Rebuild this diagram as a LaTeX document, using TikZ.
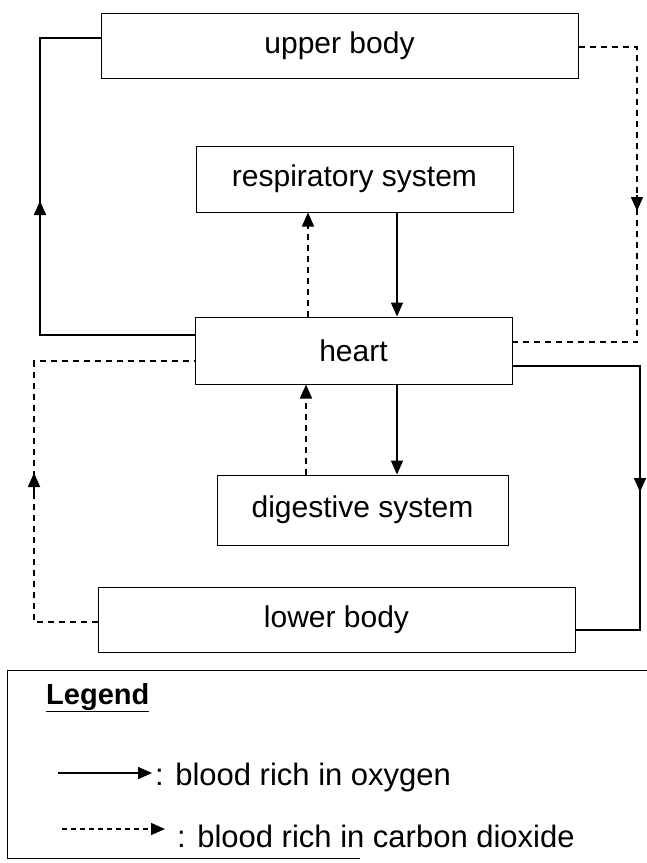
\documentclass[tikz,border=0pt]{standalone}
\usepackage{fontspec}
\setmainfont{Liberation Sans}
\usetikzlibrary{arrows.meta}
\begin{document}
\begin{tikzpicture}[x=1pt,y=-1pt,
  organ/.style={draw=black,line width=1pt,inner sep=0pt,font=\fontsize{30}{34}\selectfont},
  oxy/.style={draw=black,line width=1.8pt},
  cdx/.style={draw=black,line width=1.5pt,dash pattern=on 6pt off 5pt},
  tip/.style={-{Triangle[length=14pt,width=12pt]}},
  legtext/.style={anchor=west,inner sep=0pt,font=\fontsize{31}{35}\selectfont}]
\useasboundingbox (0,0) rectangle (647,863);

% organ boxes
\node[organ,minimum width=477pt,minimum height=65pt] (ub) at (339.5,45.5) {upper body};
\node[organ,minimum width=317pt,minimum height=66pt] (rs) at (354.5,179) {respiratory system};
\node[organ,minimum width=317pt,minimum height=67pt] (ht) at (353.5,350.5) {heart};
\node[organ,minimum width=291pt,minimum height=70pt] (ds) at (362.5,510) {digestive system};
\node[organ,minimum width=477pt,minimum height=65pt] (lb) at (336.5,619.5) {lower body};

% corners of the outer loops
\coordinate (ulA) at (40,38);   \coordinate (ulB) at (40,335);
\coordinate (urA) at (637,47);  \coordinate (urB) at (637,342);
\coordinate (llA) at (34,622);  \coordinate (llB) at (34,361);
\coordinate (lrA) at (640,366); \coordinate (lrB) at (640,630);

% upper loop
\draw[oxy] (ub.west |- ulA) -- (ulA) -- (ulB) -- (ht.west |- ulB);
\draw[oxy,tip] (40,225) -- (40,201);
\draw[cdx] (ub.east |- urA) -- (urA) -- (urB) -- (ht.east |- urB);
\draw[oxy,tip] (637,195) -- (637,211);

% lower loop
\draw[cdx] (lb.west |- llA) -- (llA) -- (llB) -- (ht.west |- llB);
\draw[oxy,tip] (34,495) -- (34,473);
\draw[oxy] (ht.east |- lrA) -- (lrA) -- (lrB) -- (lb.east |- lrB);
\draw[oxy,tip] (640,470) -- (640,492);

% heart and lungs
\draw[cdx,tip] (ht.north -| 308,0) -- (rs.south -| 308,0);
\draw[oxy,tip] (rs.south -| 397,0) -- (ht.north -| 397,0);

% heart and gut
\draw[cdx,tip] (ds.north -| 306,0) -- (ht.south -| 306,0);
\draw[oxy,tip] (ht.south -| 397,0) -- (ds.north -| 397,0);

% legend frame
\coordinate (lgA) at (7,670);
\coordinate (lgB) at (7,858);
\draw[line width=1pt] (647,670) -- (lgA) -- (lgB) -- (360,858);
\node[anchor=base west,inner sep=0pt,font=\fontsize{29}{33}\selectfont\bfseries] (lg) at (46,704) {\underline{Legend}};

\coordinate (k1a) at (58,773);  \coordinate (k1b) at (152,773);
\coordinate (k2a) at (62,829);  \coordinate (k2b) at (165,829);
\draw[line width=1.5pt,tip] (k1a) -- (k1b);
\node[legtext] (t1) at (155,777) {: blood rich in oxygen};
\draw[line width=1.3pt,dash pattern=on 5pt off 4pt,tip] (k2a) -- (k2b);
\node[legtext] (t2) at (177,836) {: blood rich in carbon dioxide};
\end{tikzpicture}
\end{document}
